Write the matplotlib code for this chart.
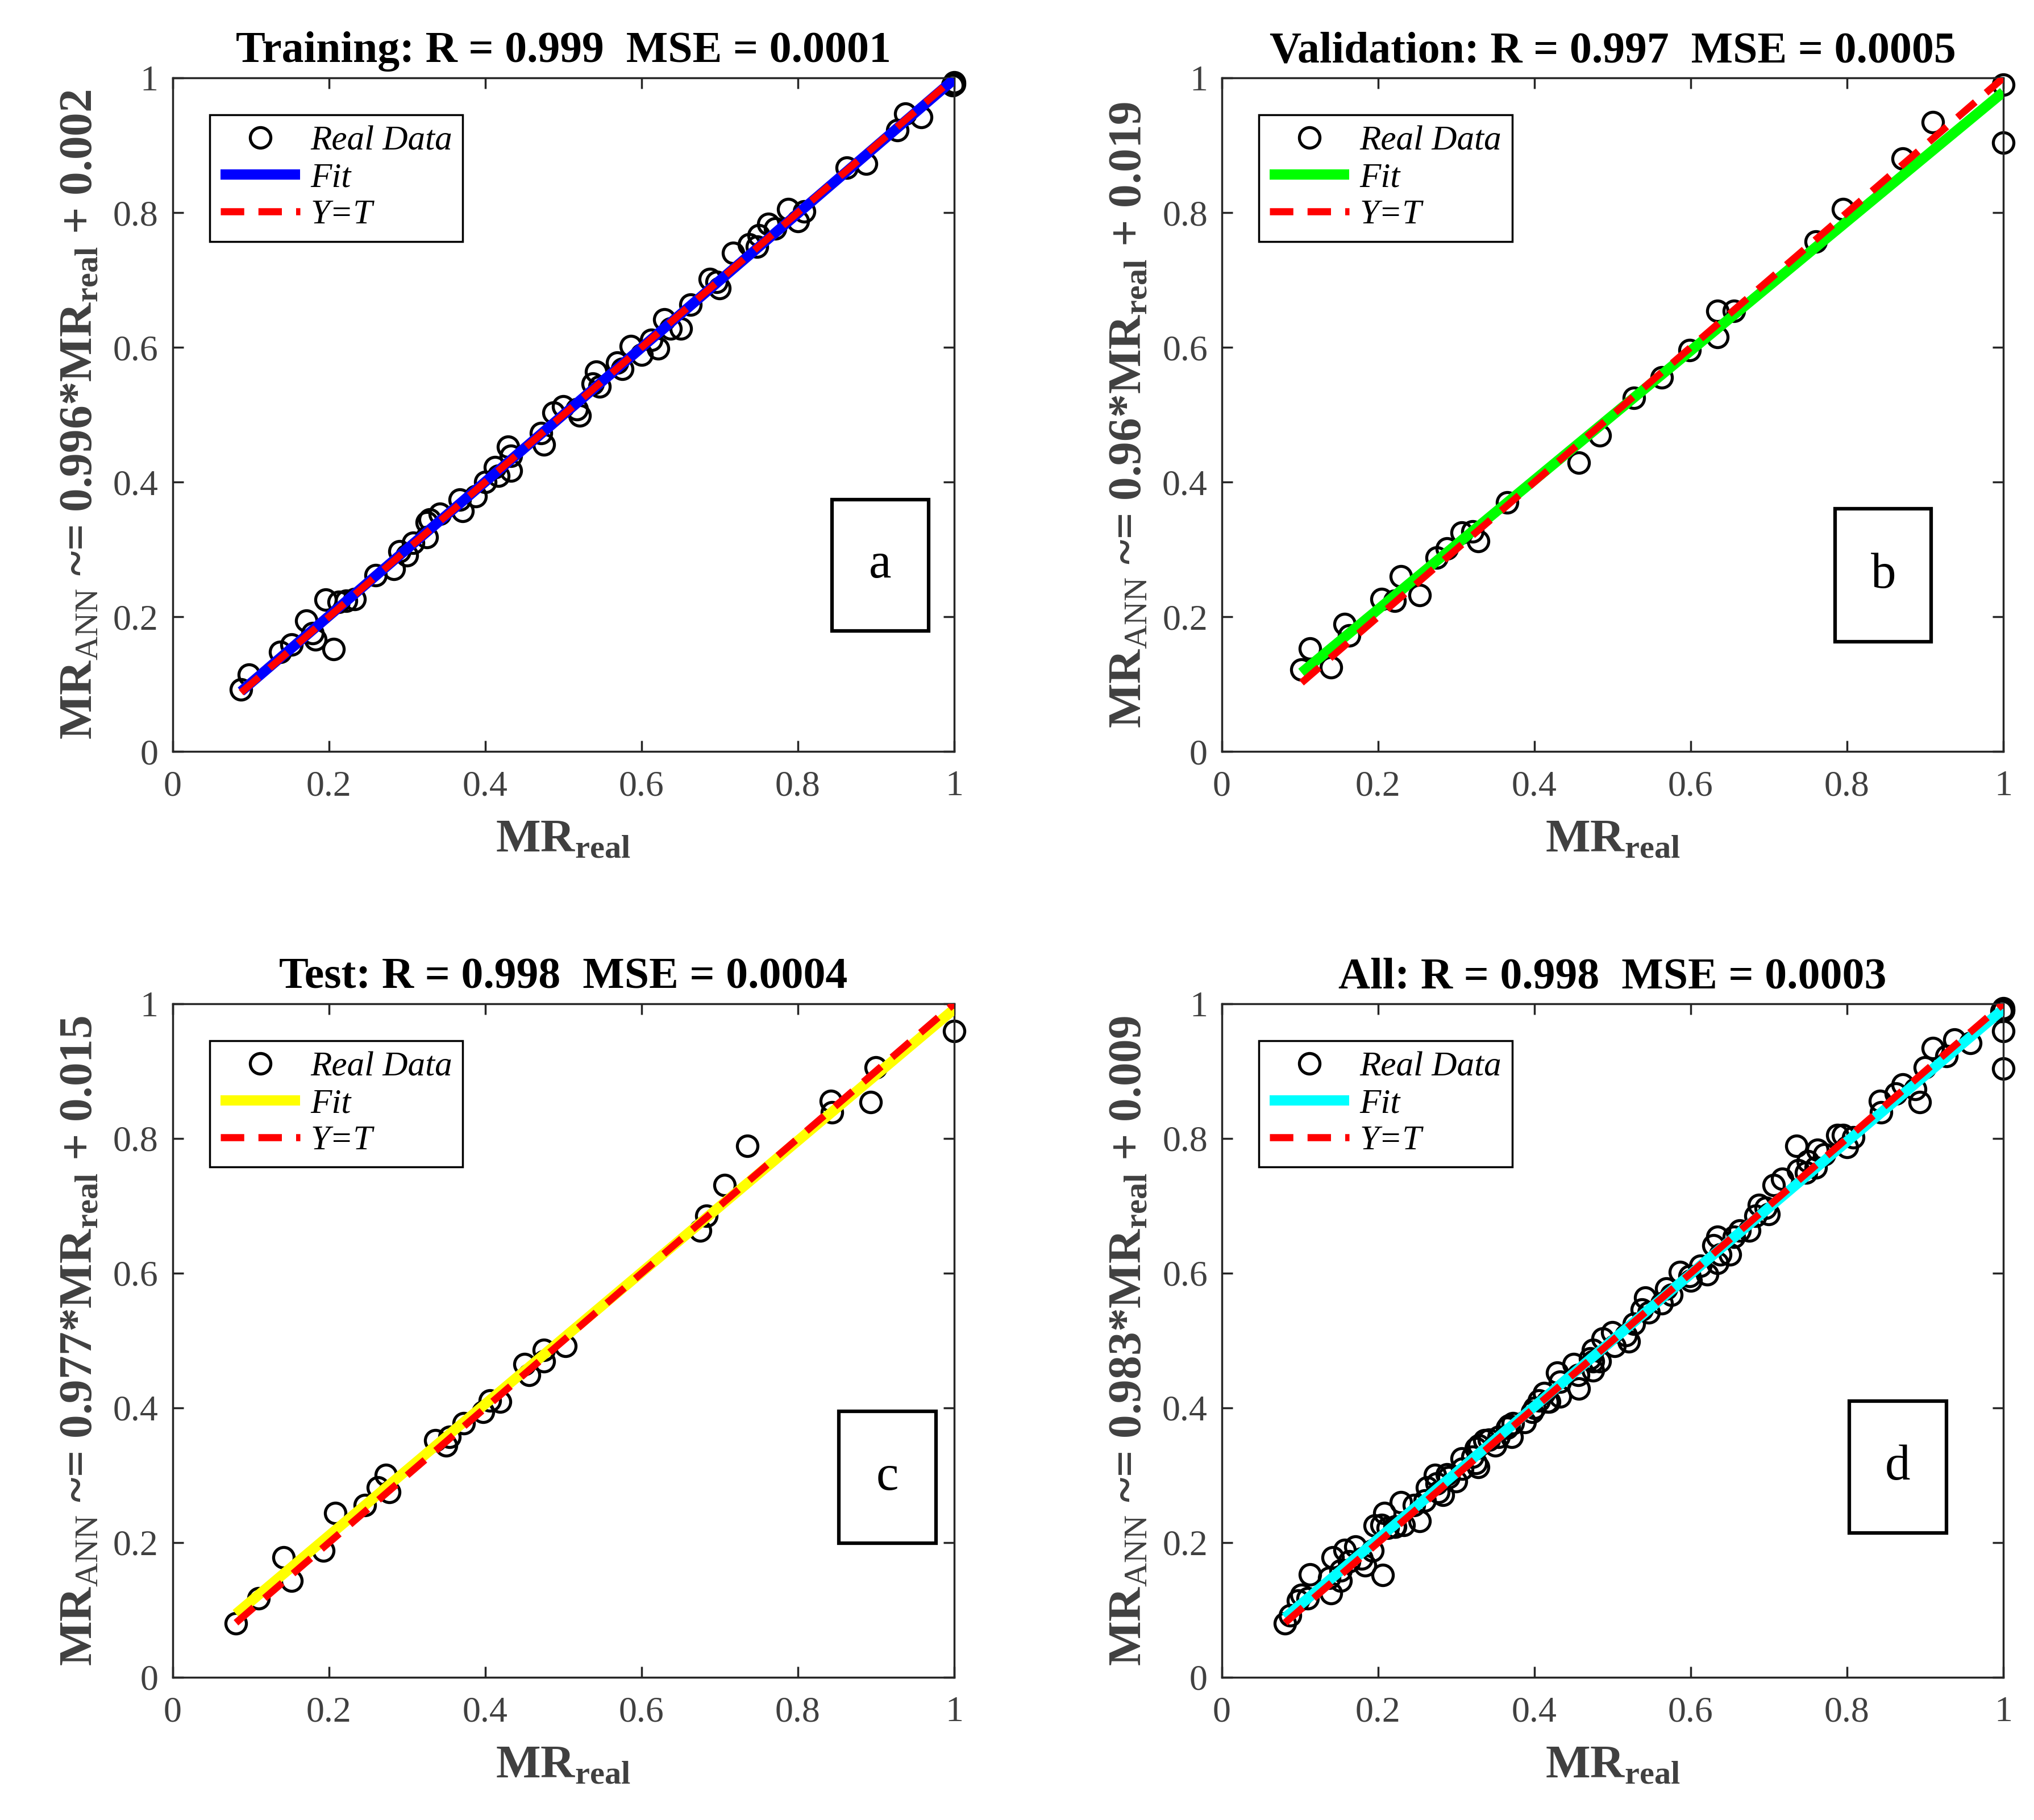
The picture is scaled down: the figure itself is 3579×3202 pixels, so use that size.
import matplotlib
matplotlib.use("Agg")
import matplotlib.pyplot as plt
from matplotlib.patches import Rectangle
import numpy as np

plt.rcParams['font.family'] = ['Liberation Serif', 'DejaVu Serif']
plt.rcParams['mathtext.fontset'] = 'custom'
plt.rcParams['mathtext.rm'] = 'Liberation Serif'
plt.rcParams['mathtext.it'] = 'Liberation Serif:italic'
plt.rcParams['mathtext.bf'] = 'Liberation Serif:bold'

# ---- data ----
train_x = [0.0875, 0.0975, 0.1375, 0.152, 0.171, 0.179, 0.183, 0.196, 0.206, 0.2125,
           0.222, 0.233, 0.26, 0.283, 0.29, 0.30, 0.308, 0.325, 0.329, 0.325,
           0.342, 0.367, 0.371, 0.3875, 0.40, 0.4125, 0.417, 0.429, 0.433, 0.433,
           0.471, 0.475, 0.4875, 0.50, 0.517, 0.521, 0.542, 0.5375, 0.546, 0.569,
           0.575, 0.586, 0.60, 0.6125, 0.621, 0.629, 0.6375, 0.65, 0.6625, 0.6875,
           0.696, 0.70, 0.717, 0.7375, 0.75, 0.748, 0.7625, 0.771, 0.7875, 0.80,
           0.808, 0.8625, 0.8875, 0.927, 0.9375, 0.958, 1.0, 1.0, 0.998]
train_y = [0.092, 0.114, 0.148, 0.159, 0.194, 0.176, 0.166, 0.225, 0.152, 0.222,
           0.224, 0.226, 0.262, 0.271, 0.297, 0.291, 0.31, 0.34, 0.344, 0.318,
           0.353, 0.374, 0.357, 0.379, 0.40, 0.422, 0.409, 0.452, 0.439, 0.417,
           0.473, 0.456, 0.503, 0.512, 0.508, 0.499, 0.564, 0.546, 0.542, 0.577,
           0.568, 0.602, 0.589, 0.611, 0.598, 0.641, 0.628, 0.628, 0.663, 0.701,
           0.697, 0.688, 0.74, 0.753, 0.766, 0.749, 0.783, 0.776, 0.805, 0.787,
           0.802, 0.867, 0.873, 0.922, 0.947, 0.942, 0.991, 0.993, 0.989]

val_x = [0.102, 0.113, 0.14, 0.157, 0.163, 0.2045, 0.221, 0.2295, 0.253, 0.275,
         0.288, 0.307, 0.321, 0.328, 0.365, 0.457, 0.484, 0.5275, 0.563, 0.5985,
         0.634, 0.634, 0.655, 0.76, 0.795, 0.871, 0.91, 1.0, 1.0]
val_y = [0.122, 0.153, 0.125, 0.189, 0.172, 0.226, 0.224, 0.26, 0.232, 0.288,
         0.301, 0.325, 0.327, 0.312, 0.37, 0.429, 0.469, 0.525, 0.555, 0.596,
         0.654, 0.615, 0.654, 0.757, 0.805, 0.88, 0.934, 0.99, 0.904]

test_x = [0.081, 0.11, 0.142, 0.152, 0.193, 0.208, 0.246, 0.2625, 0.273, 0.277,
          0.336, 0.35, 0.354, 0.3725, 0.3975, 0.406, 0.419, 0.45, 0.456, 0.475,
          0.475, 0.5025, 0.675, 0.683, 0.706, 0.735, 0.842, 0.844, 0.893, 0.90, 1.0]
test_y = [0.080, 0.117, 0.178, 0.143, 0.188, 0.244, 0.256, 0.282, 0.30, 0.275,
          0.352, 0.344, 0.357, 0.377, 0.394, 0.411, 0.409, 0.465, 0.449, 0.486,
          0.469, 0.492, 0.663, 0.685, 0.731, 0.789, 0.856, 0.839, 0.854, 0.905, 0.959]

all_x = train_x + val_x + test_x
all_y = train_y + val_y + test_y

set_names = ["Training", "Validation", "Test", "All"]
r_values = ["0.999", "0.997", "0.998", "0.998"]
mse_values = ["0.0001", "0.0005", "0.0004", "0.0003"]
fit_slopes = [0.996, 0.96, 0.977, 0.983]
fit_icepts = [0.002, 0.019, 0.015, 0.009]
slope_text = ["0.996", "0.96", "0.977", "0.983"]
icept_text = ["0.002", "0.019", "0.015", "0.009"]
fit_colors = ["#0000ff", "#00ff00", "#ffff00", "#00ffff"]
panel_tags = ["a", "b", "c", "d"]
datasets = [(train_x, train_y), (val_x, val_y), (test_x, test_y), (all_x, all_y)]

# axes positions (figure fractions) and letter-box positions (axes fractions)
axes_pos = [
    [0.0849, 0.5871, 0.3842, 0.3701],
    [0.6007, 0.5871, 0.3842, 0.3701],
    [0.0849, 0.0784, 0.3842, 0.3701],
    [0.6007, 0.0784, 0.3842, 0.3701],
]
tag_boxes = [
    (0.844, 0.179, 0.123, 0.195),
    (0.785, 0.163, 0.123, 0.197),
    (0.8525, 0.199, 0.1245, 0.196),
    (0.803, 0.214, 0.124, 0.196),
]

grey = "#404040"
tick_fs = 46
legend_fs = 44
label_fs = 60
title_fs = 56

fig = plt.figure(figsize=(35.79, 32.02), dpi=100)

for i in range(4):
    ax = fig.add_axes(axes_pos[i])
    x, y = datasets[i]
    x = np.array(x)
    y = np.array(y)

    ax.plot(x, y, 'o', mfc='none', mec='k', ms=26, mew=3.8, label="Real Data",
            zorder=2, clip_on=False)
    xl = np.array([x.min(), x.max()])
    ax.plot(xl, fit_slopes[i] * xl + fit_icepts[i], '-', color=fit_colors[i], lw=13,
            label="Fit", zorder=3, solid_capstyle='butt')
    ax.plot(xl, xl, '--', color='r', lw=9, dashes=(3.3, 2.0), label="Y=T", zorder=4)

    ax.set_xlim(0, 1)
    ax.set_ylim(0, 1)
    ax.set_xticks([0, 0.2, 0.4, 0.6, 0.8, 1])
    ax.set_yticks([0, 0.2, 0.4, 0.6, 0.8, 1])
    ax.set_xticklabels(["0", "0.2", "0.4", "0.6", "0.8", "1"])
    ax.set_yticklabels(["0", "0.2", "0.4", "0.6", "0.8", "1"])
    ax.tick_params(direction='in', length=14, width=2.5, top=True, right=True,
                   labelsize=tick_fs, labelcolor=grey, color='#262626')
    ax.tick_params(axis='x', pad=24)
    ax.tick_params(axis='y', pad=18)
    for sp in ax.spines.values():
        sp.set_linewidth(2.5)
        sp.set_color('#262626')

    ax.set_title(f"{set_names[i]}: R = {r_values[i]}  MSE = {mse_values[i]}",
                 fontsize=title_fs, fontweight='bold', pad=20)
    ax.set_xlabel(r"MR$_{\mathbf{real}}$", fontsize=label_fs, fontweight='bold',
                  color=grey, labelpad=20)
    ax.set_ylabel(r"MR$_{\mathrm{ANN}}$ ~= " + slope_text[i] + r"*MR$_{\mathbf{real}}$ + " + icept_text[i],
                  fontsize=label_fs, fontweight='bold', color=grey, labelpad=14)

    leg = ax.legend(loc='upper left', bbox_to_anchor=(0.0475, 0.945), borderaxespad=0,
                    prop={'family': 'Liberation Serif', 'style': 'italic', 'size': legend_fs},
                    fancybox=False, framealpha=1, edgecolor='k', handlelength=2.3,
                    labelspacing=0.15, borderpad=0.3, handletextpad=0.3)
    leg.get_frame().set_linewidth(2.5)

    bx, by, bw, bh = tag_boxes[i]
    ax.add_patch(Rectangle((bx, by), bw, bh, transform=ax.transAxes, fill=False,
                           lw=4.5, ec='k', zorder=5))
    ax.text(bx + bw / 2, by + bh / 2, panel_tags[i], transform=ax.transAxes,
            ha='center', va='center', fontsize=64, zorder=6)

fig.savefig("out.png", dpi=100)
